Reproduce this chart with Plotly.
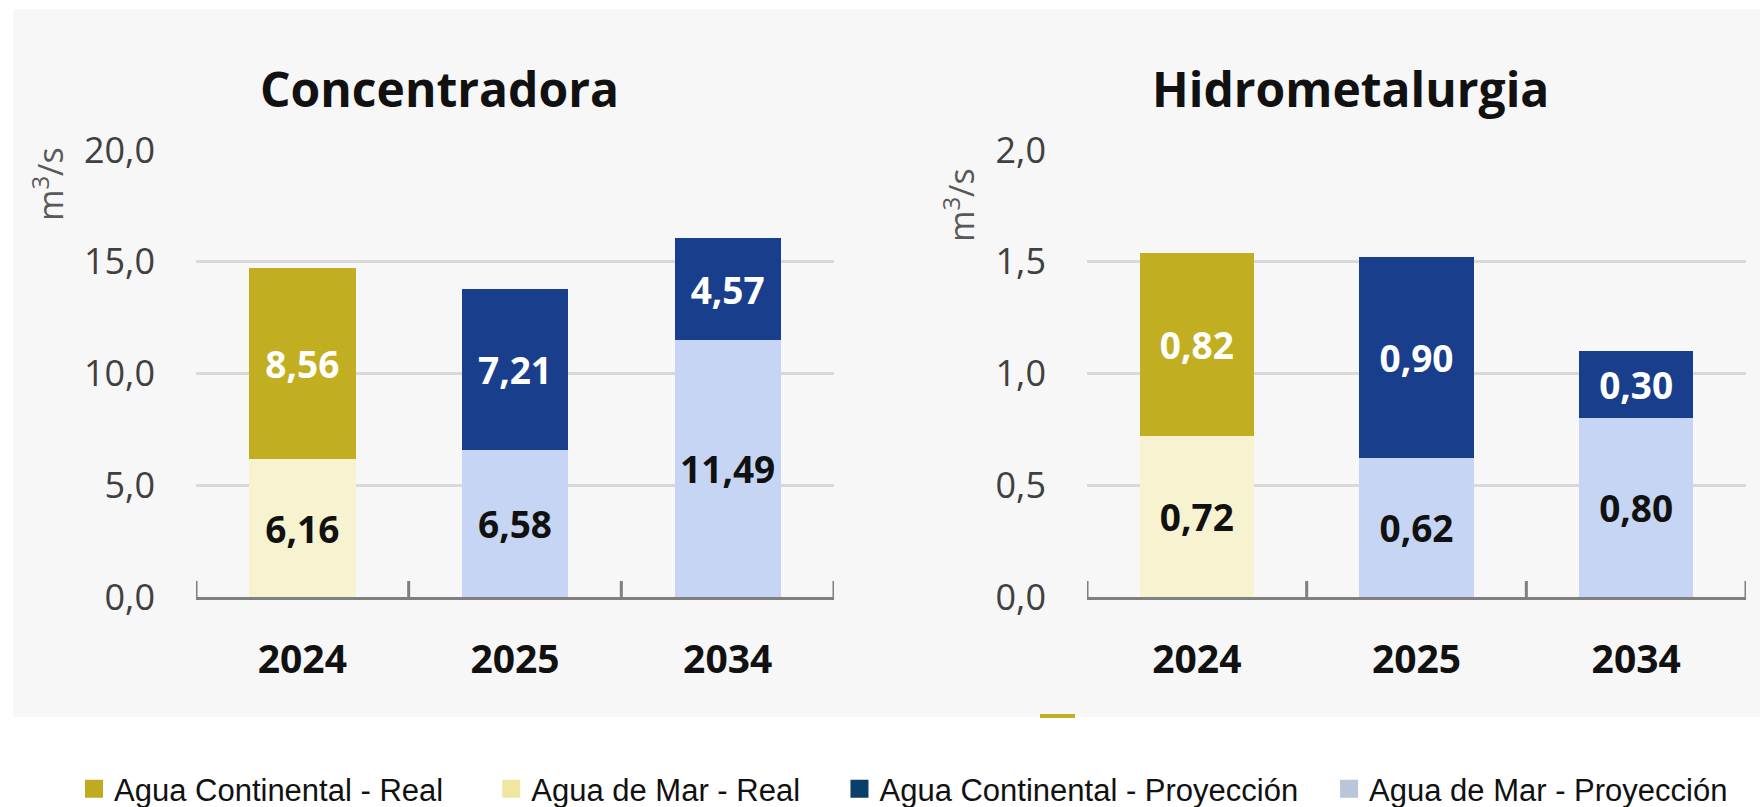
import plotly.graph_objects as go

# ---------------- data ----------------
years = ["2024", "2025", "2034"]

conc_cont_real = [8.56, None, None]
conc_mar_real = [6.16, None, None]
conc_cont_proy = [None, 7.21, 4.57]
conc_mar_proy = [None, 6.58, 11.49]

hidro_cont_real = [0.82, None, None]
hidro_mar_real = [0.72, None, None]
hidro_cont_proy = [None, 0.90, 0.30]
hidro_mar_proy = [None, 0.62, 0.80]

panel_titles = ["Concentradora", "Hidrometalurgia"]
conc_ticks = [0, 5, 10, 15, 20]
hidro_ticks = [0, 0.5, 1.0, 1.5, 2.0]
unit_label = "m<sup>3</sup>/s"
legend_names = ["Agua Continental - Real", "Agua de Mar - Real",
                "Agua Continental - Proyección", "Agua de Mar - Proyección"]

# ---------------- styles ----------------
C_GOLD = "#C2AE21"
C_CREAM = "#F7F3D0"
C_NAVY = "#193E8C"
C_LBLUE = "#C5D5F3"
LEG_COLORS = ["#C0AA22", "#EFE6A0", "#0A3F6C", "#B9C5DB"]
LEG_PAD = [5, 4, 3, 0]  # trailing non-breaking spaces to widen legend gaps
FONT = "Open Sans"
AX_GRAY = "#7F7F7F"

fig = go.Figure()


def add_panel(xa, ya, mar_real, mar_proy, cont_real, cont_proy, width):
    specs = [
        (mar_real, C_CREAM, "#111111"),
        (mar_proy, C_LBLUE, "#111111"),
        (cont_real, C_GOLD, "#FFFFFF"),
        (cont_proy, C_NAVY, "#FFFFFF"),
    ]
    for vals, col, tcol in specs:
        xs = [c for c, v in zip(years, vals) if v is not None]
        ys = [v for v in vals if v is not None]
        fig.add_trace(go.Bar(
            x=xs, y=ys, xaxis=xa, yaxis=ya, width=width,
            marker=dict(color=col, line=dict(width=0)),
            texttemplate="%{y:.2f}", textposition="inside",
            insidetextanchor="middle", constraintext="none",
            textfont=dict(family=FONT, size=37, color=tcol, weight="bold"),
            showlegend=False, hoverinfo="skip",
        ))


add_panel("x", "y", conc_mar_real, conc_mar_proy, conc_cont_real, conc_cont_proy, 0.5)
add_panel("x2", "y2", hidro_mar_real, hidro_mar_proy, hidro_cont_real, hidro_cont_proy, 0.52)

# legend-only traces
for name, col, pad in zip(legend_names, LEG_COLORS, LEG_PAD):
    fig.add_trace(go.Scatter(
        x=[None], y=[None], mode="markers", name=name + "\u00a0" * pad,
        marker=dict(symbol="square", size=16, color=col, line=dict(width=2, color=col)),
        hoverinfo="skip", showlegend=True,
    ))

ydom = [1 - 597 / 807, 1 - 150 / 807]
xdom1 = [196 / 1760, 834 / 1760]
xdom2 = [1087 / 1760, 1746 / 1760]

xcommon = dict(
    type="category", categoryorder="array", categoryarray=years,
    range=[-0.5, len(years) - 0.5],
    showline=True, linecolor=AX_GRAY, linewidth=3, ticks="",
    showgrid=False, zeroline=False, ticklabelstandoff=26,
    tickfont=dict(family=FONT, size=39, color="#111111", weight="bold"),
    fixedrange=True,
)
ycommon = dict(
    showline=False, ticks="", showgrid=True, gridcolor="#D9D9D9", gridwidth=2.5,
    zeroline=False, tickformat=".1f", ticklabelstandoff=40,
    tickfont=dict(family=FONT, size=36, color="#404040"),
    fixedrange=True,
)

fig.update_layout(
    width=1760, height=807,
    margin=dict(l=0, r=0, t=0, b=0, autoexpand=False),
    paper_bgcolor="#FFFFFF", plot_bgcolor="rgba(0,0,0,0)",
    barmode="stack", separators=",.",
    xaxis=dict(domain=xdom1, anchor="y", **xcommon),
    xaxis2=dict(domain=xdom2, anchor="y2", **xcommon),
    yaxis=dict(domain=ydom, anchor="x", range=[0, conc_ticks[-1]], tickvals=conc_ticks, **ycommon),
    yaxis2=dict(domain=ydom, anchor="x2", range=[0, hidro_ticks[-1]], tickvals=hidro_ticks, **ycommon),
    showlegend=True,
    legend=dict(
        orientation="h", x=74 / 1760, xanchor="left", y=1 - 789 / 807, yanchor="middle",
        font=dict(family="Liberation Sans", size=31, color="#111111"),
        bgcolor="rgba(0,0,0,0)", itemclick=False, itemdoubleclick=False,
        traceorder="normal", itemwidth=30,
    ),
)

# background panel + stray mark
fig.add_shape(type="rect", xref="paper", yref="paper", x0=13 / 1760, x1=1, y0=1 - 717 / 807, y1=1 - 9 / 807,
              fillcolor="#F7F7F7", line=dict(width=0), layer="below")
fig.add_shape(type="rect", xref="paper", yref="paper", x0=1040 / 1760, x1=1075 / 1760,
              y0=1 - 718 / 807, y1=1 - 714 / 807, fillcolor=C_GOLD, line=dict(width=0), layer="above")

# crossing tick marks at category boundaries
for xa, ya in (("x", "y"), ("x2", "y2")):
    for i in range(len(years) + 1):
        fig.add_shape(type="line", xref=xa, yref=ya, x0=i - 0.5, x1=i - 0.5,
                      ysizemode="pixel", yanchor=0, y0=-16, y1=16,
                      line=dict(color=AX_GRAY, width=3), layer="above")

# titles
for title, xc in zip(panel_titles, (439 / 1760, 1350 / 1760)):
    fig.add_annotation(text=title, xref="paper", yref="paper", x=xc, y=1 - 89 / 807,
                       xanchor="center", yanchor="middle", showarrow=False,
                       font=dict(family=FONT, size=48, color="#111111", weight="bold"))

# unit labels
for xc, yc in ((48 / 1760, 1 - 184 / 807), (960 / 1760, 1 - 205 / 807)):
    fig.add_annotation(text=unit_label, xref="paper", yref="paper", x=xc, y=yc,
                       xanchor="center", yanchor="middle", showarrow=False, textangle=-90,
                       font=dict(family=FONT, size=34, color="#595959"))

fig.write_html("out.html", config={"displayModeBar": False},
               post_script="document.body.style.margin='0';document.body.style.overflow='hidden';")
